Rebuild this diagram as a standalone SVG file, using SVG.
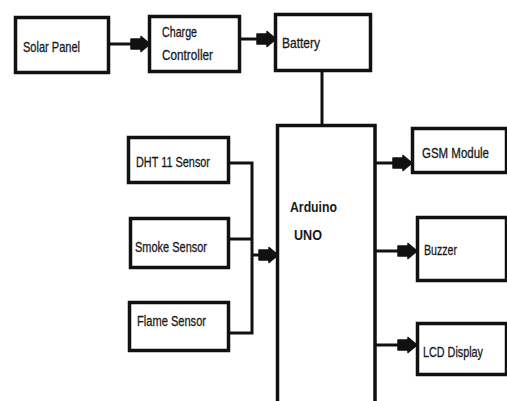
<svg xmlns="http://www.w3.org/2000/svg" width="507" height="401" viewBox="0 0 507 401">
<style>
.box{fill:#fff;stroke:#111;stroke-width:3.5}
.ln{fill:none;stroke:#111;stroke-width:3}
.t{font-family:"Liberation Sans",Arial,sans-serif;font-size:15px;fill:#1a1a1a;stroke:#1a1a1a;stroke-width:0.3}
.s{font-size:14px}
.b{font-weight:bold;font-size:15.5px;stroke-width:0}
</style>
<defs>
<marker id="arr" markerUnits="userSpaceOnUse" viewBox="-20 -9 21 18" markerWidth="21" markerHeight="18" refX="0" refY="0" orient="auto">
<path d="M-19,-5 L-9,-5 L-9,-7.5 L0,0 L-9,7.5 L-9,5 L-19,5 Z" fill="#111" stroke="#111" stroke-width="1.5" stroke-linejoin="round"/>
</marker>
</defs>
<rect width="507" height="401" fill="#fff"/>
<g id="connectors">
<line class="ln" x1="109" y1="44" x2="150" y2="44" marker-end="url(#arr)"/>
<line class="ln" x1="240" y1="39" x2="276" y2="39" marker-end="url(#arr)"/>
<line class="ln" x1="322" y1="71" x2="322" y2="126"/>
<polyline class="ln" points="229,163 252,163 252,333 229,333"/>
<line class="ln" x1="229" y1="239" x2="252" y2="239"/>
<line class="ln" x1="252" y1="255" x2="278" y2="255" marker-end="url(#arr)"/>
<line class="ln" x1="375" y1="163" x2="412" y2="163" marker-end="url(#arr)"/>
<line class="ln" x1="375" y1="251" x2="417" y2="251" marker-end="url(#arr)"/>
<line class="ln" x1="375" y1="345" x2="417" y2="345" marker-end="url(#arr)"/>
</g>
<g id="solar-panel">
<rect class="box" x="15.5" y="17.5" width="93" height="55"/>
<text class="t" x="23" y="52" textLength="57" lengthAdjust="spacingAndGlyphs">Solar Panel</text>
</g>
<g id="charge-controller">
<rect class="box" x="149.5" y="16.5" width="90" height="55"/>
<text class="t" x="162" y="37" textLength="35" lengthAdjust="spacingAndGlyphs">Charge</text>
<text class="t" x="162" y="60" textLength="51" lengthAdjust="spacingAndGlyphs">Controller</text>
</g>
<g id="battery">
<rect class="box" x="275.5" y="14.5" width="95" height="56"/>
<text class="t" x="282" y="48" textLength="38" lengthAdjust="spacingAndGlyphs">Battery</text>
</g>
<g id="arduino-uno">
<path class="box" d="M277.5,404 L277.5,125.5 L375,125.5 L375,404"/>
<text class="t b" x="290" y="212" textLength="47" lengthAdjust="spacingAndGlyphs">Arduino</text>
<text class="t b" x="294" y="240" textLength="28" lengthAdjust="spacingAndGlyphs">UNO</text>
</g>
<g id="dht11-sensor">
<rect class="box" x="128.5" y="137.5" width="100" height="45"/>
<text class="t" x="136" y="167" textLength="74" lengthAdjust="spacingAndGlyphs">DHT 11 Sensor</text>
</g>
<g id="smoke-sensor">
<rect class="box" x="130.5" y="218.5" width="98" height="49"/>
<text class="t" x="135" y="252" textLength="72" lengthAdjust="spacingAndGlyphs">Smoke Sensor</text>
</g>
<g id="flame-sensor">
<rect class="box" x="129.5" y="302.5" width="99" height="48"/>
<text class="t" x="137" y="326" textLength="69" lengthAdjust="spacingAndGlyphs">Flame Sensor</text>
</g>
<g id="gsm-module">
<rect class="box" x="412.5" y="128.5" width="94" height="44"/>
<text class="t s" x="422" y="158" textLength="67" lengthAdjust="spacingAndGlyphs">GSM Module</text>
</g>
<g id="buzzer">
<rect class="box" x="417.5" y="217.5" width="89" height="63"/>
<text class="t" x="424" y="255" textLength="33" lengthAdjust="spacingAndGlyphs">Buzzer</text>
</g>
<g id="lcd-display">
<rect class="box" x="417.5" y="323.5" width="89" height="51"/>
<text class="t s" x="423" y="357" textLength="60" lengthAdjust="spacingAndGlyphs">LCD Display</text>
</g>
</svg>
